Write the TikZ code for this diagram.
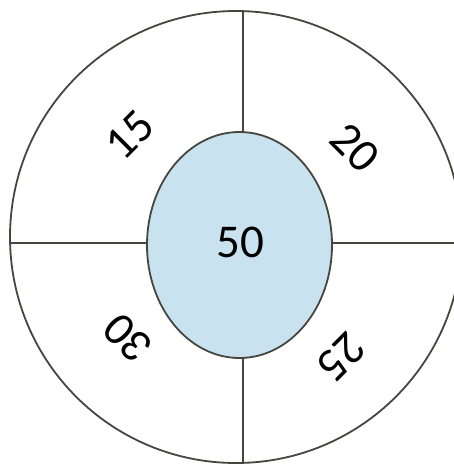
\documentclass[tikz,border=0pt]{standalone}
\usepackage{fontspec}
\setmainfont{Carlito}
\usetikzlibrary{shapes.geometric}
\definecolor{ringline}{RGB}{70,70,62}
\definecolor{lightblue}{RGB}{200,226,240}
\tikzset{
  ringstroke/.style={draw=ringline, line width=1.8pt},
  numlabel/.style={font=\fontsize{47}{50}\selectfont, text=black, inner sep=0pt},
}
\begin{document}
\begin{tikzpicture}[x=1pt,y=-1pt]
  \path[use as bounding box, fill=white] (0,0) rectangle (454,464);
  \clip (0,0) rectangle (454,464);
  \draw[ringstroke] (236,237) circle[radius=226];
  \coordinate (tN) at (243,11);
  \coordinate (tS) at (243,463);
  \coordinate (tW) at (10,243);
  \coordinate (tE) at (460,243);
  \draw[ringstroke] (tN) -- (tS);
  \draw[ringstroke] (tW) -- (tE);
  \node[ellipse, ringstroke, fill=lightblue, minimum width=185pt, minimum height=226pt, inner sep=0pt] (mid) at (239.5,245) {};
  \node[numlabel] (v50) at (240,242) {50};
  \node[numlabel, rotate=45] (v15) at (130,135) {15};
  \node[numlabel, rotate=-45] (v20) at (355,148) {20};
  \node[numlabel, rotate=-135] (v25) at (341,357) {25};
  \node[numlabel, rotate=135] (v30) at (128,338) {30};
\end{tikzpicture}
\end{document}
